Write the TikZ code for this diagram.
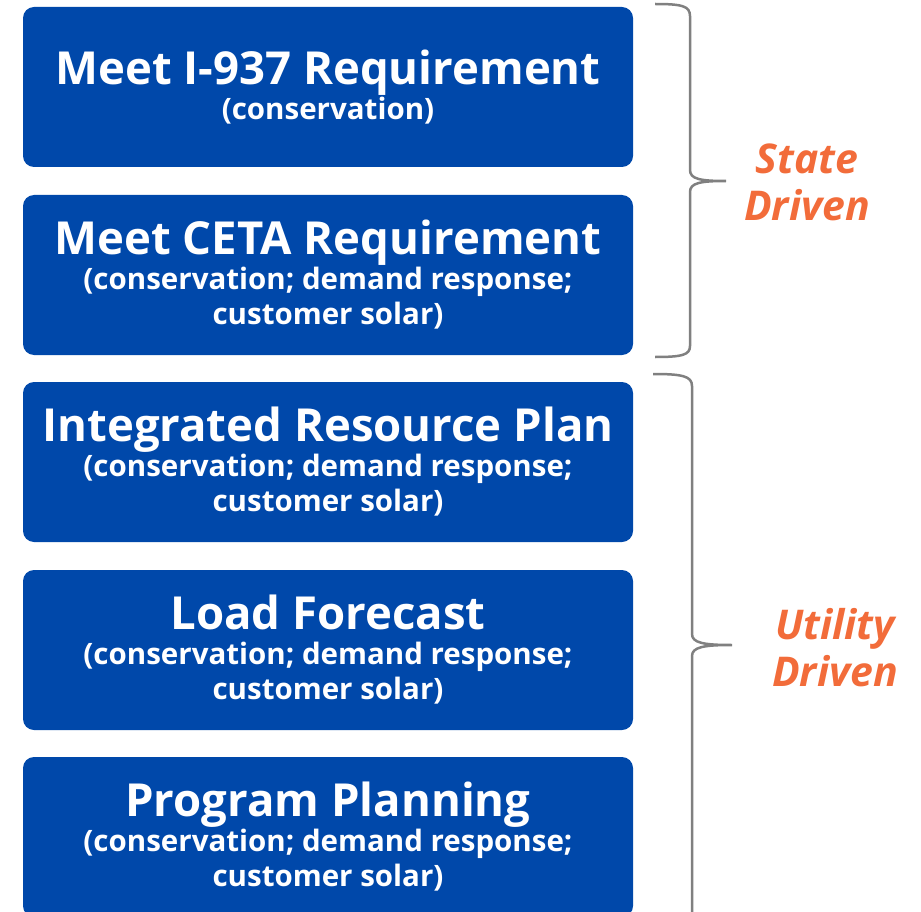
\documentclass[tikz,border=0pt]{standalone}
\usepackage{fontspec}
\setmainfont{Open Sans}
\usepackage{tikz}
\usetikzlibrary{calc}

\definecolor{boxblue}{RGB}{0,72,170}
\definecolor{drivenorange}{RGB}{242,108,58}
\definecolor{bracegray}{RGB}{128,128,128}

\tikzset{
  planbox/.style={fill=boxblue, rounded corners=11pt, minimum width=610pt, minimum height=160pt,
    text=white, align=center, font=\bfseries\fontsize{29.5}{35}\selectfont},
  bracket/.style={draw=bracegray, line width=2.5pt},
  driven/.style={text=drivenorange, align=center, font=\bfseries\itshape\fontsize{41}{47}\selectfont}
}
\newcommand{\boxtitle}[1]{{\fontsize{45.5}{50}\selectfont #1}}

\begin{document}
\begin{tikzpicture}[x=1pt, y=-1pt]
  %%%%% START %%%%%
  \clip (0, 0) rectangle (921, 912);

  \node[planbox] (iseven) at (328, 87) {\boxtitle{Meet I-937 Requirement}\\(conservation)};
  \node[planbox] (ceta) at (328, 275) {\boxtitle{Meet CETA Requirement}\\(conservation; demand response;\\customer solar)};
  \node[planbox] (irp) at (328, 462) {\boxtitle{Integrated Resource Plan}\\(conservation; demand response;\\customer solar)};
  \node[planbox] (load) at (328, 650) {\boxtitle{Load Forecast}\\(conservation; demand response;\\customer solar)};
  \node[planbox] (program) at (328, 837) {\boxtitle{Program Planning}\\(conservation; demand response;\\customer solar)};

  % state brace
  \draw[bracket] (655, 4) .. controls (682, 4) and (690, 6) .. (690, 16) -- (690, 170)
    .. controls (690, 179) and (700, 181) .. (726, 181)
    .. controls (700, 181) and (690, 183) .. (690, 192) -- (690, 346)
    .. controls (690, 355) and (682, 357) .. (655, 357);
  \node[driven] (state) at (807, 182) {State\\Driven};

  % utility brace
  \draw[bracket] (653, 374) .. controls (682, 374) and (692, 376) .. (692, 386) -- (692, 634)
    .. controls (692, 643) and (704, 645) .. (732, 645)
    .. controls (704, 645) and (692, 647) .. (692, 656) -- (692, 930);
  \node[driven] (utility) at (835, 648) {Utility\\Driven};

  %%%%% END %%%%%
\end{tikzpicture}
\end{document}
